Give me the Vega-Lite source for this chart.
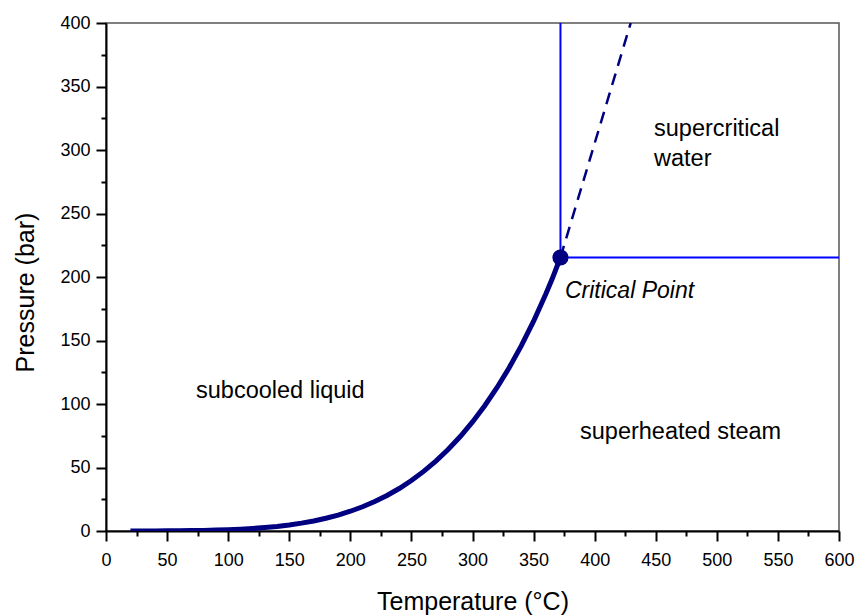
{
  "$schema": "https://vega.github.io/schema/vega-lite/v6.json",
  "width": 733,
  "height": 508,
  "autosize": {"type": "none"},
  "padding": {"left": 106, "top": 23, "right": 19, "bottom": 85},
  "background": "white",
  "config": {
    "view": {"stroke": "#555555", "strokeWidth": 1.5},
    "font": "Liberation Sans",
    "axis": {"grid": false}
  },
  "datasets": {
    "sat": [
      {"T": 20, "P": 0.0234}, {"T": 30, "P": 0.0425}, {"T": 40, "P": 0.0738},
      {"T": 50, "P": 0.1235}, {"T": 60, "P": 0.1995}, {"T": 70, "P": 0.312},
      {"T": 80, "P": 0.4741}, {"T": 90, "P": 0.7018}, {"T": 100, "P": 1.0142},
      {"T": 110, "P": 1.4338}, {"T": 120, "P": 1.9867}, {"T": 130, "P": 2.7028},
      {"T": 140, "P": 3.6154}, {"T": 150, "P": 4.7616}, {"T": 160, "P": 6.1823},
      {"T": 170, "P": 7.9219}, {"T": 180, "P": 10.028}, {"T": 190, "P": 12.552},
      {"T": 200, "P": 15.549}, {"T": 210, "P": 19.077}, {"T": 220, "P": 23.196},
      {"T": 230, "P": 27.971}, {"T": 240, "P": 33.469}, {"T": 250, "P": 39.762},
      {"T": 260, "P": 46.923}, {"T": 270, "P": 55.03}, {"T": 280, "P": 64.166},
      {"T": 290, "P": 74.418}, {"T": 300, "P": 85.879}, {"T": 310, "P": 98.651},
      {"T": 320, "P": 112.84}, {"T": 330, "P": 128.52}, {"T": 340, "P": 145.94},
      {"T": 350, "P": 165.21}, {"T": 360, "P": 186.57}, {"T": 365, "P": 198.0},
      {"T": 370, "P": 210.44}, {"T": 372, "P": 215.4}
    ],
    "ext": [
      {"T": 372, "P": 215.4}, {"T": 429.5, "P": 400}
    ],
    "bounds": [
      {"T": 372, "P": 215.4, "T2": 372, "P2": 400},
      {"T": 372, "P": 215.4, "T2": 600, "P2": 215.4}
    ],
    "cp": [
      {"T": 372, "P": 215.4}
    ],
    "labels": [
      {"T": 73.7, "P": 105, "text": "subcooled liquid"},
      {"T": 388, "P": 72.7, "text": "superheated steam"},
      {"T": 448.6, "P": 310.8, "text": "supercritical"},
      {"T": 448.6, "P": 287.2, "text": "water"}
    ],
    "italic": [
      {"T": 375.7, "P": 183.6, "text": "Critical Point"}
    ]
  },
  "resolve": {"axis": {"x": "independent", "y": "independent"}},
  "layer": [
    {
      "data": {"name": "sat"},
      "mark": {"type": "line", "color": "#000080", "strokeWidth": 5, "clip": true},
      "encoding": {
        "x": {
          "field": "T", "type": "quantitative",
          "scale": {"domain": [0, 600], "nice": false, "zero": false},
          "axis": {
            "orient": "bottom",
            "values": [0, 50, 100, 150, 200, 250, 300, 350, 400, 450, 500, 550, 600],
            "title": "Temperature (°C)",
            "titleFont": "Liberation Sans", "titleFontSize": 25, "titleFontWeight": "normal",
            "titleColor": "black", "titleX": 366.5, "titleY": 78,
            "titleAlign": "center", "titleBaseline": "alphabetic",
            "labelFont": "Liberation Sans", "labelFontSize": 18, "labelColor": "black",
            "labelPadding": 10, "labelOverlap": false, "labelFlush": false,
            "tickSize": 10, "tickWidth": 2, "tickColor": "black",
            "domainColor": "black", "domainWidth": 2
          }
        },
        "y": {
          "field": "P", "type": "quantitative",
          "scale": {"domain": [0, 400], "nice": false, "zero": false},
          "axis": {
            "orient": "left",
            "values": [0, 50, 100, 150, 200, 250, 300, 350, 400],
            "title": "Pressure (bar)",
            "titleFont": "Liberation Sans", "titleFontSize": 25, "titleFontWeight": "normal",
            "titleColor": "black", "titleAngle": -90, "titleX": -73, "titleY": 269,
            "titleAlign": "center", "titleBaseline": "alphabetic",
            "labelFont": "Liberation Sans", "labelFontSize": 18, "labelColor": "black",
            "labelPadding": 6, "labelOverlap": false, "labelFlush": false,
            "tickSize": 10, "tickWidth": 2, "tickColor": "black",
            "domainColor": "black", "domainWidth": 2
          }
        }
      }
    },
    {
      "data": {"name": "bounds"},
      "mark": {"type": "rule", "color": "#0000FF", "strokeWidth": 2},
      "encoding": {
        "x": {
          "field": "T", "type": "quantitative",
          "axis": {
            "orient": "bottom",
            "values": [25, 75, 125, 175, 225, 275, 325, 375, 425, 475, 525, 575],
            "labels": false, "domain": false, "title": null,
            "tickSize": 5, "tickWidth": 2, "tickColor": "black"
          }
        },
        "x2": {"field": "T2"},
        "y": {
          "field": "P", "type": "quantitative",
          "axis": {
            "orient": "left",
            "values": [25, 75, 125, 175, 225, 275, 325, 375],
            "labels": false, "domain": false, "title": null,
            "tickSize": 5, "tickWidth": 2, "tickColor": "black"
          }
        },
        "y2": {"field": "P2"}
      }
    },
    {
      "data": {"name": "ext"},
      "mark": {"type": "line", "color": "#000080", "strokeWidth": 2.5, "strokeDash": [12, 8], "clip": true},
      "encoding": {
        "x": {"field": "T", "type": "quantitative", "axis": null},
        "y": {"field": "P", "type": "quantitative", "axis": null}
      }
    },
    {
      "data": {"name": "cp"},
      "mark": {"type": "point", "shape": "circle", "filled": true, "color": "#000080", "opacity": 1, "size": 260},
      "encoding": {
        "x": {"field": "T", "type": "quantitative", "axis": null},
        "y": {"field": "P", "type": "quantitative", "axis": null}
      }
    },
    {
      "data": {"name": "labels"},
      "mark": {"type": "text", "align": "left", "baseline": "alphabetic", "font": "Liberation Sans", "fontSize": 23.5, "color": "black"},
      "encoding": {
        "x": {"field": "T", "type": "quantitative", "axis": null},
        "y": {"field": "P", "type": "quantitative", "axis": null},
        "text": {"field": "text"}
      }
    },
    {
      "data": {"name": "italic"},
      "mark": {"type": "text", "align": "left", "baseline": "alphabetic", "font": "Liberation Sans", "fontSize": 23, "fontStyle": "italic", "color": "black"},
      "encoding": {
        "x": {"field": "T", "type": "quantitative", "axis": null},
        "y": {"field": "P", "type": "quantitative", "axis": null},
        "text": {"field": "text"}
      }
    }
  ]
}
